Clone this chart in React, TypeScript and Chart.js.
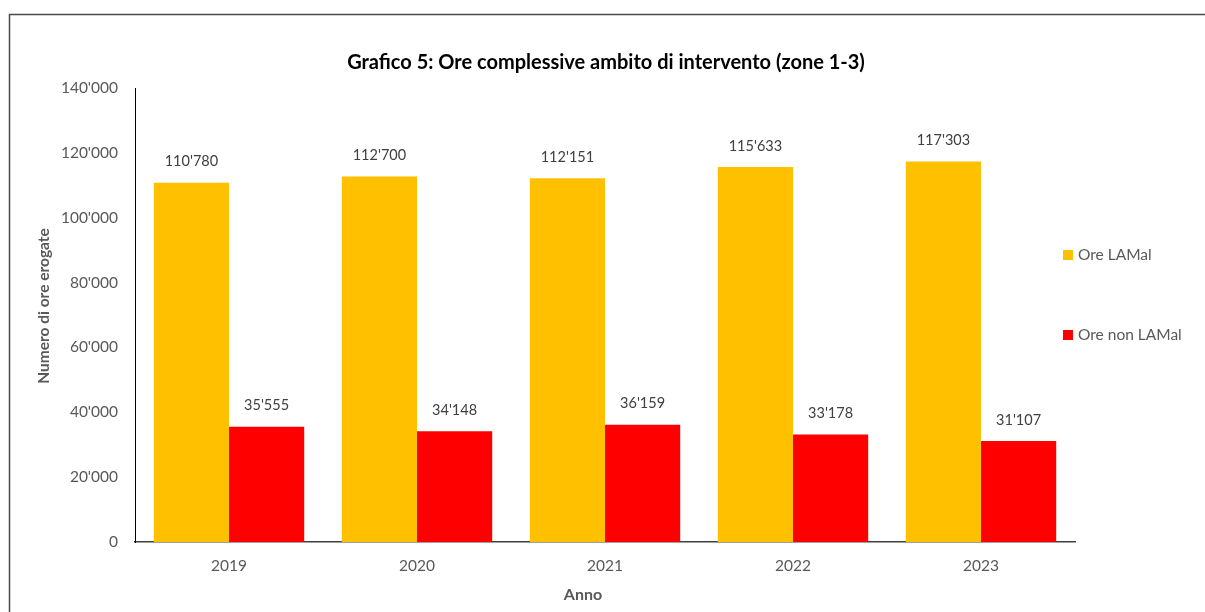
import React, { useEffect, useRef } from "react";
import { Chart, registerables } from "chart.js";

Chart.register(...registerables);

const categories = ["2019", "2020", "2021", "2022", "2023"];
const oreLAMal = [110780, 112700, 112151, 115633, 117303];
const oreNonLAMal = [35555, 34148, 36159, 33178, 31107];
const seriesLabels = ["Ore LAMal", "Ore non LAMal"];
const seriesColors = ["#FFC000", "#FF0000"];
const titleText = "Grafico 5: Ore complessive ambito di intervento (zone 1-3)";
const yTitle = "Numero di ore erogate";
const xTitle = "Anno";

const FONT = "Lato, 'Liberation Sans', sans-serif";
const fmt = (v: number) => {
  const s = Math.round(v).toString();
  return s.replace(/\B(?=(\d{3})+(?!\d))/g, "'");
};

const decorPlugin = {
  id: "decor",
  beforeDraw(chart: any) {
    const ctx = chart.ctx;
    ctx.save();
    ctx.fillStyle = "#fff";
    ctx.fillRect(0, 0, chart.width, chart.height);
    ctx.strokeStyle = "#4a4a4a";
    ctx.lineWidth = 1.5;
    ctx.beginPath();
    ctx.moveTo(9.5, chart.height + 5);
    ctx.lineTo(9.5, 14.5);
    ctx.lineTo(chart.width + 5, 14.5);
    ctx.stroke();
    ctx.restore();
  },
  afterDraw(chart: any) {
    const ctx = chart.ctx;
    ctx.save();
    // title
    ctx.fillStyle = "#000";
    ctx.font = `bold 20px ${FONT}`;
    ctx.textAlign = "center";
    ctx.textBaseline = "middle";
    ctx.fillText(titleText, 606, 63);
    // axis titles
    ctx.fillStyle = "#595959";
    ctx.font = `bold 16px ${FONT}`;
    ctx.fillText(xTitle, 583, 595);
    ctx.save();
    ctx.translate(44, 306);
    ctx.rotate(-Math.PI / 2);
    ctx.font = `bold 15.5px ${FONT}`;
    ctx.fillText(yTitle, 0, 0);
    ctx.restore();
    // data labels
    ctx.fillStyle = "#404040";
    ctx.font = `14.5px ${FONT}`;
    chart.data.datasets.forEach((ds: any, di: number) => {
      const meta = chart.getDatasetMeta(di);
      meta.data.forEach((bar: any, i: number) => {
        ctx.fillText(fmt(ds.data[i]), bar.x, bar.y - 21);
      });
    });
    // legend
    const legendY = [255, 335];
    ctx.font = `15.5px ${FONT}`;
    ctx.textAlign = "left";
    chart.data.datasets.forEach((ds: any, di: number) => {
      ctx.fillStyle = ds.backgroundColor;
      ctx.fillRect(1063, legendY[di] - 5, 10, 10);
      ctx.fillStyle = "#595959";
      ctx.fillText(ds.label, 1078, legendY[di]);
    });
    ctx.restore();
  },
};

export default function App() {
  const ref = useRef<HTMLCanvasElement | null>(null);
  useEffect(() => {
    if (!ref.current) return;
    const chart = new Chart(ref.current, {
      type: "bar",
      data: {
        labels: categories,
        datasets: [
          { label: seriesLabels[0], data: oreLAMal, backgroundColor: seriesColors[0] },
          { label: seriesLabels[1], data: oreNonLAMal, backgroundColor: seriesColors[1] },
        ],
      },
      options: {
        animation: false,
        responsive: false,
        devicePixelRatio: 1,
        layout: { padding: { left: 0, right: 130, top: 88, bottom: 30 } },
        datasets: { bar: { categoryPercentage: 0.8, barPercentage: 1.0 } },
        plugins: {
          legend: { display: false },
          title: { display: false },
          tooltip: { enabled: false },
        },
        scales: {
          x: {
            grid: { display: false, drawTicks: false },
            border: { display: true, color: "#404040", width: 1.5 },
            ticks: { color: "#595959", font: { family: FONT, size: 15.5 }, padding: 15 },
            afterFit: (s: any) => { s.height = 40; },
          },
          y: {
            min: 0,
            max: 140000,
            grid: { display: false, drawTicks: false },
            border: { display: true, color: "#000", width: 1 },
            ticks: {
              stepSize: 20000,
              color: "#595959",
              font: { family: FONT, size: 15.5 },
              padding: 17,
              callback: (v: any) => fmt(Number(v)),
            },
            afterFit: (s: any) => { s.width = 135; },
          },
        },
      },
      plugins: [decorPlugin],
    });
    return () => chart.destroy();
  }, []);
  return (
    <div style={{ position: "fixed", left: 0, top: 0, width: 1205, height: 612, background: "#fff" }}>
      <canvas ref={ref} width={1205} height={612} style={{ display: "block", width: 1205, height: 612 }} />
    </div>
  );
}
